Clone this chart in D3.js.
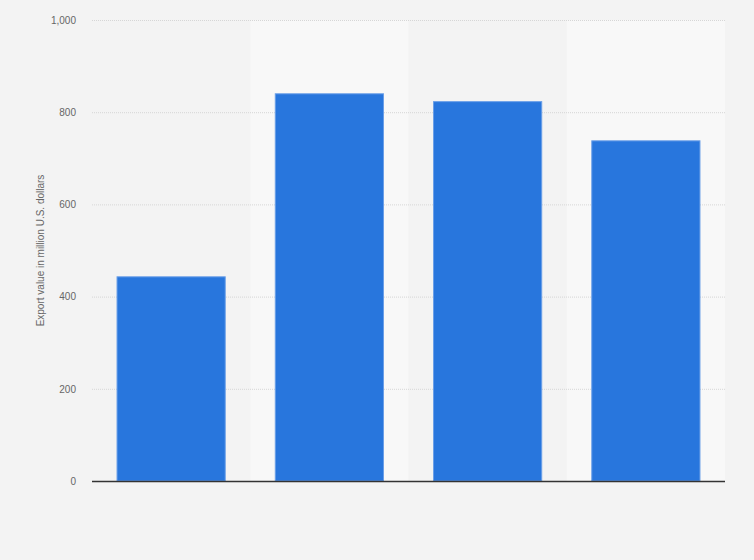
<!DOCTYPE html>
<html><head><meta charset="utf-8">
<script src="https://cdn.jsdelivr.net/npm/d3@7"></script>
<style>html,body{margin:0;padding:0;background:#f3f3f3;}svg{display:block;}</style>
</head><body>
<svg id="c" width="754" height="560"></svg>
<script>
const categories = ["A", "B", "C", "D"];
const values = [444, 841, 824, 739];
const yTicks = [0, 200, 400, 600, 800, 1000];
const yLabel = "Export value in million U.S. dollars";

const svg = d3.select("#c");
const m = {l: 92, r: 29, t: 20, b: 79};
const W = 754, H = 560;
const x = d3.scaleBand().domain(categories).range([m.l, W - m.r]).paddingInner(0.31).paddingOuter(0.155);
const y = d3.scaleLinear().domain([0, 1000]).range([H - m.b, m.t]);

svg.append("rect").attr("width", W).attr("height", H).attr("fill", "#f3f3f3");

// alternating band backgrounds
const step = x.step();
svg.append("g").selectAll("rect").data(categories).join("rect")
  .attr("x", d => x(d) - x.paddingOuter() * step)
  .attr("y", m.t).attr("width", step).attr("height", H - m.b - m.t)
  .attr("fill", (d, i) => i % 2 ? "#f8f8f8" : "none");

// grid
svg.append("g").selectAll("line").data(yTicks.filter(t => t > 0)).join("line")
  .attr("x1", m.l).attr("x2", W - m.r)
  .attr("y1", d => y(d) + 0.5).attr("y2", d => y(d) + 0.5)
  .attr("stroke", "#d6d6d6").attr("stroke-dasharray", "1,1");

// y axis
const ya = svg.append("g").attr("transform", `translate(${m.l},0)`)
  .call(d3.axisLeft(y).tickValues(yTicks).tickSize(0).tickPadding(16).tickFormat(d3.format(",")));
ya.select(".domain").remove();
ya.selectAll("text").attr("fill", "#666").style("font-family", "Arial, 'Liberation Sans', sans-serif").style("font-size", "10px");

// bars
svg.append("g").selectAll("rect").data(values).join("rect")
  .attr("x", (d, i) => x(categories[i]) + 0.5)
  .attr("y", d => y(d) + 0.5)
  .attr("width", x.bandwidth() - 1)
  .attr("height", d => y(0) - y(d) - 0.5)
  .attr("fill", "#2876dd").attr("stroke", "#6a9fe8").attr("stroke-width", 1);

// baseline
svg.append("line").attr("x1", m.l).attr("x2", W - m.r)
  .attr("y1", y(0) + 0.5).attr("y2", y(0) + 0.5)
  .attr("stroke", "#333").attr("stroke-width", 1.5);

// y label
svg.append("text")
  .attr("transform", `translate(44,${(m.t + H - m.b) / 2}) rotate(-90)`)
  .attr("text-anchor", "middle")
  .attr("fill", "#666")
  .style("font-family", "Arial, 'Liberation Sans', sans-serif").style("font-size", "10px")
  .text(yLabel);
</script>
</body></html>
